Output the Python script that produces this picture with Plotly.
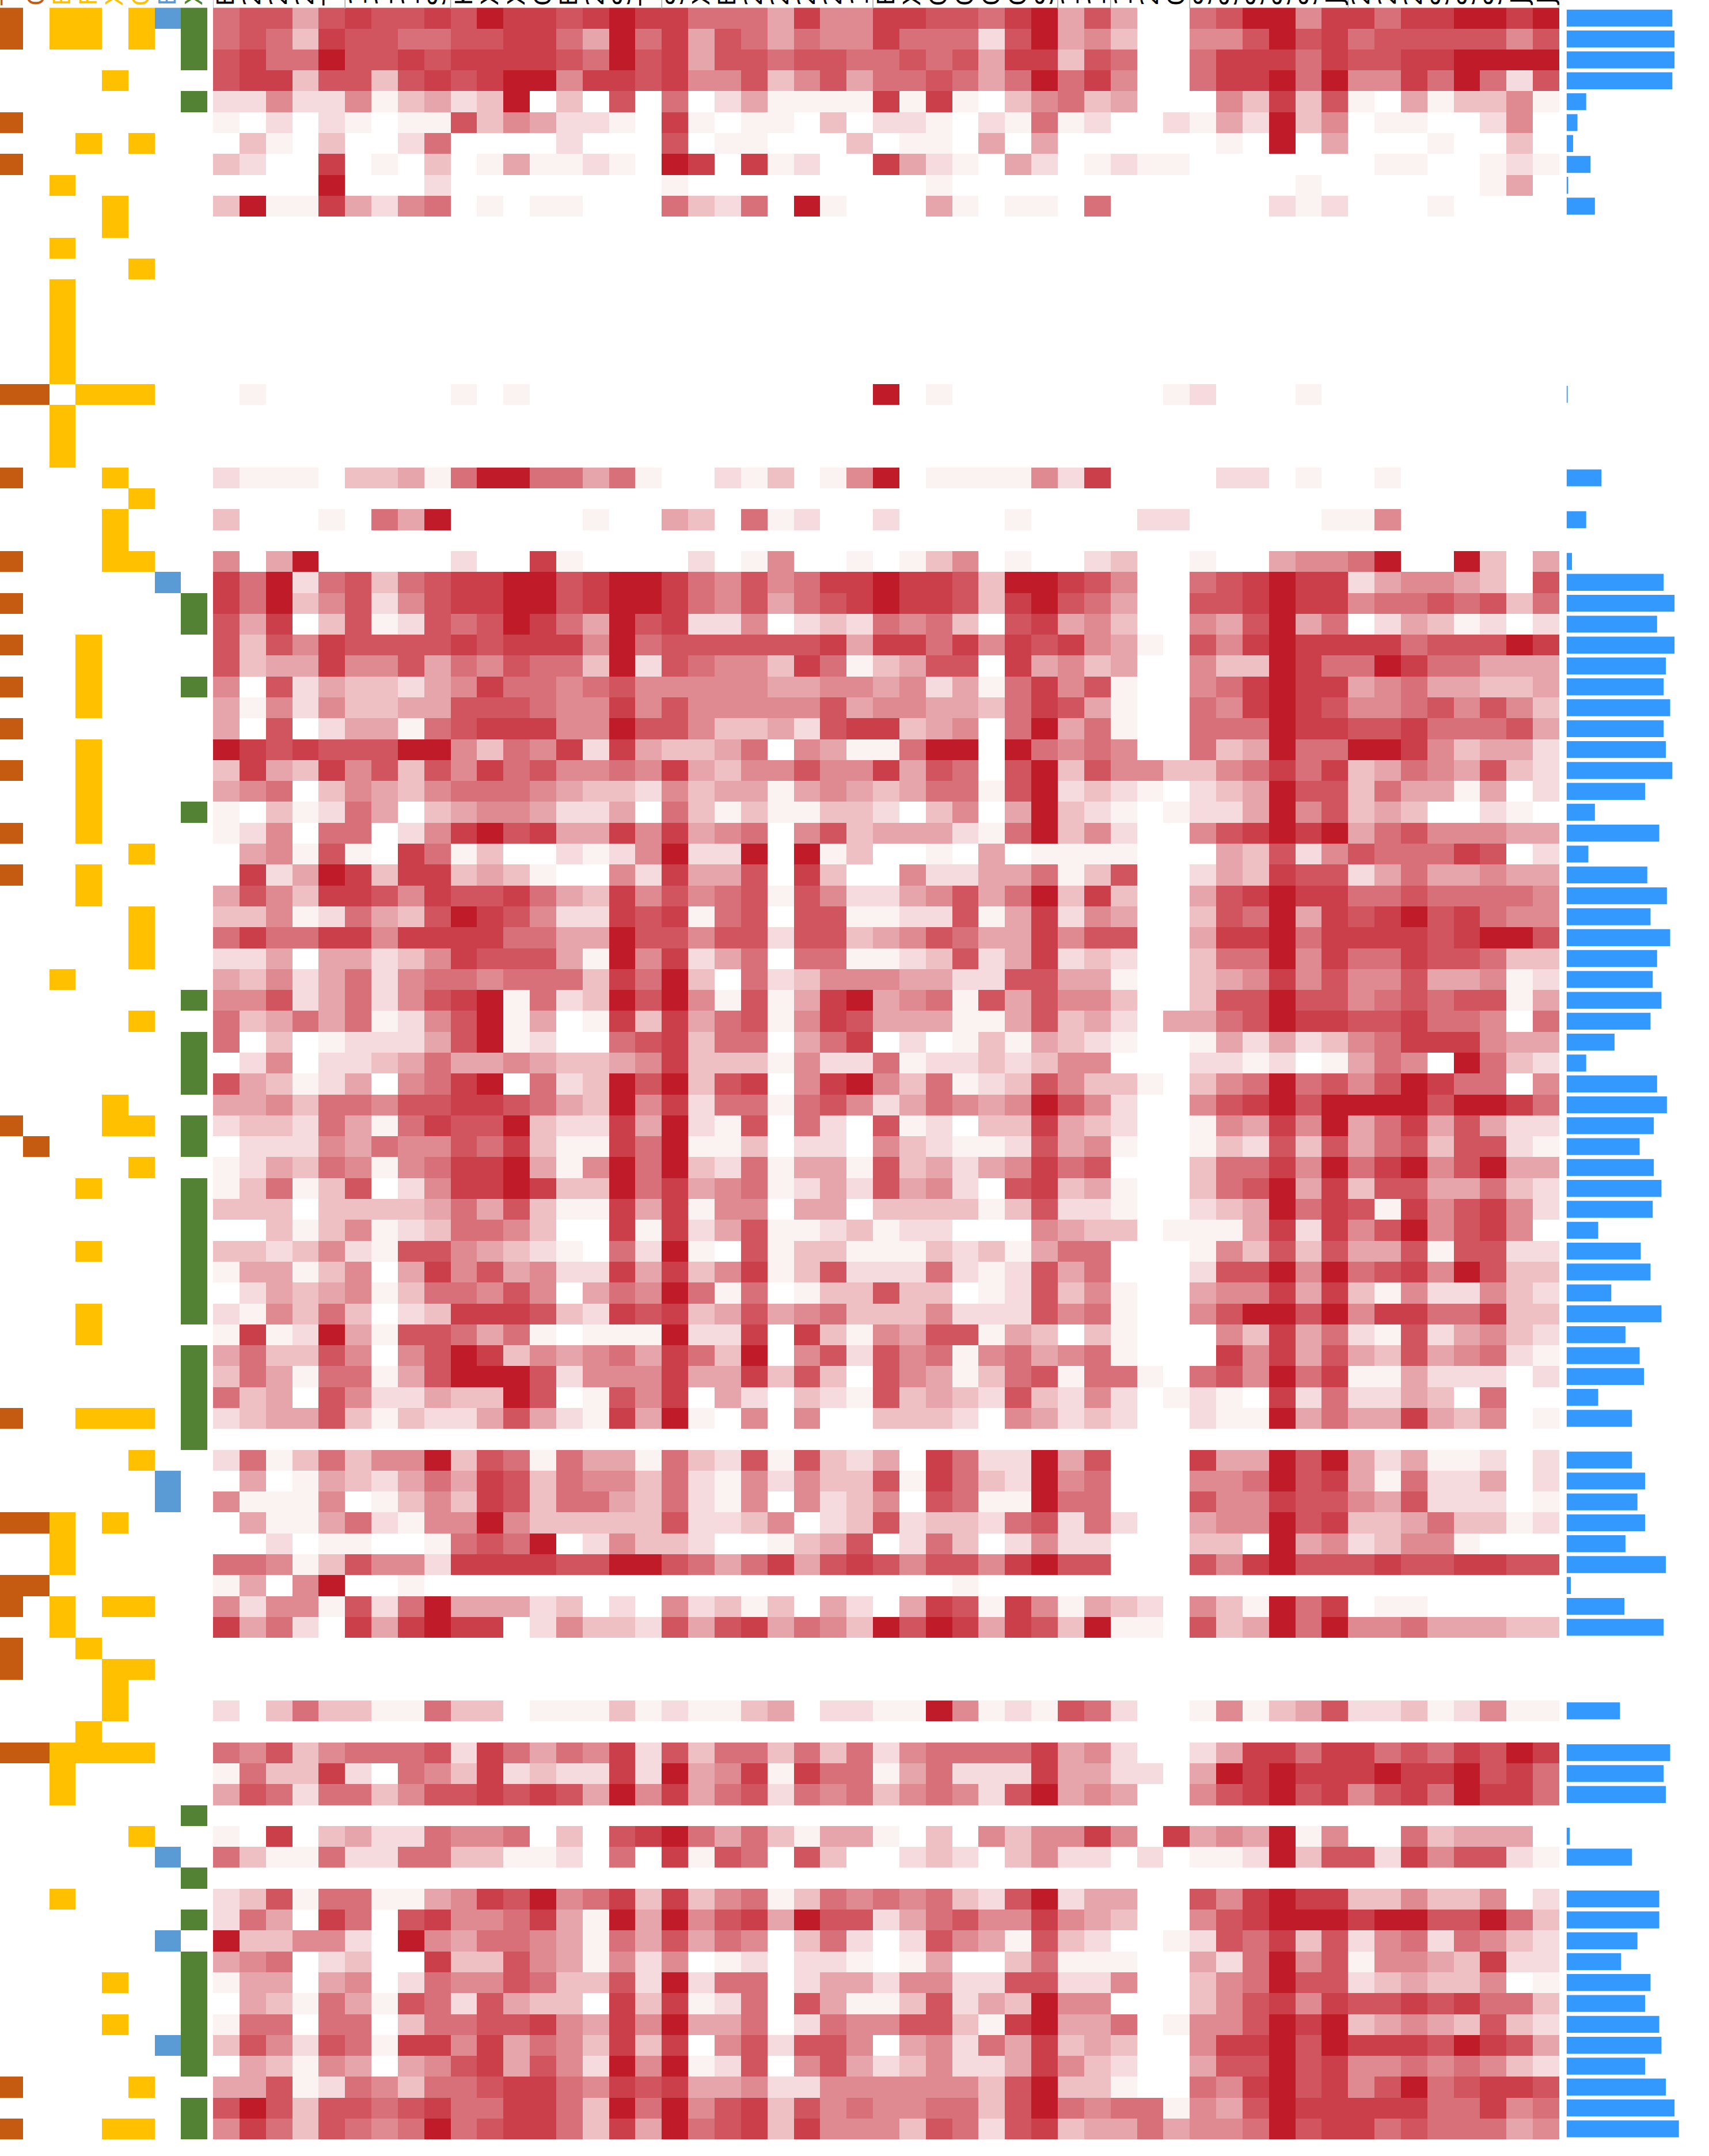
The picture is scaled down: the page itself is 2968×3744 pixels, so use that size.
import plotly.graph_objects as go

W, H = 2968, 3744
BLANK = "0" * 51

HEAT_LEVELS = [
"6774787787 9887898866 6485588776 8947400679 9588688998 9",
"6763877667 7886496847 6465586662 7945300557 9786777775 7",
"7866977878 8887697847 7677667674 8837600688 8687788999 9",
"7883773787 8995887855 7357466764 6968500688 9695586962 7",
"2252251342 3903070602 4111181810 3563400053 8371041335 1",
"1020210117 3542210810 1103022102 1612002142 9350110025 0",
"0310300260 0002000701 1000301104 0400000010 9040001003 0",
"3200801030 1411210980 8120084210 4201211000 0000110012 1",
"0000900020 0000000100 0000000100 0000000000 0100000014 0",
"3911842560 1011000632 6091000410 1106000000 2120001000 0",
BLANK, BLANK, BLANK, BLANK, BLANK, BLANK, BLANK, BLANK,
"0100000001 0100000000 0000090100 0000001200 0100000000 0",
BLANK, BLANK, BLANK,
"2111033416 9966461002 1301590111 1528000022 0100100000 0",
BLANK,
"3000106490 0000100430 6120020000 1000022000 0011500000 0",
BLANK,
"5049000002 0081000020 1500101350 1002300100 4556900930 4",
"8692673678 8997899865 7568898873 9987500678 9882455430 7",
"8693572578 8997899865 7467898873 8976400778 9885667673 6",
"7480371276 7986497822 5023265630 7845300547 9460243120 2",
"7375877778 7888596777 7778488685 8785410758 9888867779 8",
"7344855746 5766392765 5386134770 8453400533 9866986644 4",
"5072433245 8665675555 5445545241 6857100568 9884564433 4",
"4152533447 7765585755 5557455443 6874100658 9875567575 3",
"4070244167 8885597753 3427883450 6946100666 9887786667 4",
"9878777995 3658284334 6054116990 9656500634 9669985344 2",
"3843857375 8675565843 5575584760 7937553356 8683465473 2",
"4560354356 6654332534 4145434661 7923210234 9773644140 2",
"1031264034 5542240631 3113320350 4932101224 9573430021 0",
"1250660258 9784485845 6057344421 6935200578 9894675554 4",
"0451710861 3002125922 9091300104 0111100043 7257666870 2",
"0824983883 4310052844 7083005224 4613700243 8772464454 4",
"4753887587 7864385756 7175224574 6938300478 9886676666 5",
"3351264379 8752287816 7077112271 4825400376 9487897865 5",
"6866885888 8664497757 7277345764 4857700488 9688887899 7",
"2240442358 7774195824 6066112372 4823200366 9586687763 3",
"4352462566 5666386930 6235554422 7744100345 8575574451 2",
"5572462578 9162397951 7148945617 4755300377 9775676771 4",
"6346461257 9140183846 7158744411 4734204467 9887786650 6",
"6030122247 9120067836 6046802013 1432100142 4235688854 4",
"0250223464 4543345833 3152261223 2355000221 2014650963 2",
"7431240568 9062397937 8058953612 3753310356 9675798660 5",
"4453665778 8764395826 6167524654 5975200578 9799997998 6",
"2332641687 7932284921 7062071203 3843200154 8594684742 2",
"0222546557 6831186911 3022053211 2745100132 7374673772 1",
"1243651568 8941596932 6144173424 5867000366 8596895794 4",
"1361370258 8983396845 6124274520 7834100367 9483774463 2",
"3330333346 4731184815 5044033331 3722100234 9687185785 2",
"0031351236 6530081824 7112312200 0543301114 8285795785 0",
"3323521775 4321062910 7133111323 1466000153 7374471772 2",
"1441350485 7452284835 8137222621 2746000277 9596785973 3",
"0243451366 5750465961 6013373301 2735100455 8483152253 2",
"2153630238 8873287834 7456333522 2756100579 9795886683 3",
"1812941776 4610111922 8083154771 4303100053 8462172453 2",
"4633750579 8354564863 9057275615 6456100085 8474374562 1",
"3641661479 9972555844 8373075413 6716610675 9681142220 2",
"6340752243 3970175804 2032173432 7325201210 8262243060 0",
"2344731322 4742184910 5050033320 5423200211 9464484350 1",
BLANK,
"2613635593 7616441632 7173240862 2947000844 9794241120 2",
"0401432464 8736553621 5253371863 2956000556 9784162240 2",
"5111501353 8736643621 5052350761 1966000755 8775472220 1",
"0411462155 9533333722 3502372332 6726200455 9783346331 2",
"0020110016 7690253320 0134702630 2522000330 9452355100 0",
"6651375528 8887799764 6847875775 8977000758 9777877887 7",
"1405900100 0000000000 0000000010 0000000000 0000000000 0",
"5255172694 4423020523 1304204871 8514320531 9680110000 0",
"8462084898 8025332747 8465397984 8739110734 9695564443 3",
BLANK, BLANK, BLANK,
"2036331163 3011131211 3402211951 2176200151 3472231251 1",
BLANK,
"6573566672 8646582736 6363625666 6845200248 8688676879 8",
"1633820653 8232282945 8186614622 2844220498 9888988978 6",
"4762663577 8787495846 7265635652 7945400578 9785786988 6",
BLANK,
"1080342265 5603078964 6314410305 3558508454 9150063444 0",
"6311622663 3112060817 6073002320 3522020112 9377285772 1",
BLANK,
"2371661145 8795683835 6136565632 7924400758 9883353350 2",
"2640860785 5684194957 8497724675 5854300578 9998997796 3",
"9335520954 6654164746 5036202754 1732001276 8372562653 2",
"4560230083 3754152501 2022101400 3611100426 9571554382 2",
"1440450265 5763372926 6024425522 7722500356 9772343350 1",
"0431641762 7433083812 6074113724 3955000357 8587787866 3",
"1660660366 7785485944 6026557731 8944601557 9893454373 2",
"3752761885 8465383805 7277504526 4834300588 9798887987 4",
"0431540457 8475295912 7057423522 4853200477 9785565653 2",
"4471265366 7886587844 5225555553 7933100658 9785796788 7",
"7973776786 6886396957 8375655663 7965661547 9888886685 6",
"5863765696 7886384967 8385553762 7834464556 9788676664 5",
]
LEVEL_VALUES = [0, 0.055, 0.15, 0.26, 0.37, 0.48, 0.59, 0.70, 0.79, 0.94]

BAR_VALUES = [97, 99, 99, 97, 18, 10, 6, 22, 1.5, 26, 0, 0, 0, 0, 0, 0, 0, 0, 1, 0, 0, 0, 32, 0, 18, 0, 5,
              89, 99, 83, 99, 91, 89, 95, 89, 91, 97, 72, 26, 85, 20, 74, 92, 77, 95, 83, 79, 87, 77, 44, 18,
              83, 92, 80, 67, 80, 87, 79, 29, 68, 77, 41, 87, 54, 67, 71, 29, 60, 0, 60, 72, 65, 72, 54, 91,
              4, 53, 89, 0, 0, 0, 49, 0, 95, 89, 91, 0, 3, 60, 0, 85, 85, 65, 50, 77, 72, 85, 87, 72, 91, 99, 103]

TRACK_T = [0, 1, 5, 7, 18, 22, 26, 28, 30, 32, 34, 36, 39, 41, 53, 67, 72, 75, 76, 78, 79, 83, 99, 101]
TRACK_C = [18, 54, 72, 75, 83]
TRACK_E = [0, 1, 8, 11, 13, 14, 15, 16, 17, 19, 20, 21, 46, 72, 73, 74, 76, 77, 83, 84, 85, 90]
TRACK_F = [0, 1, 6, 18, 30, 31, 32, 33, 35, 36, 37, 38, 39, 41, 42, 56, 59, 62, 63, 67, 78, 82, 83]
TRACK_X = [3, 9, 10, 18, 22, 24, 25, 26, 52, 53, 67, 72, 76, 79, 80, 81, 83, 94, 96, 101]
TRACK_G = [0, 1, 6, 12, 18, 23, 26, 40, 43, 44, 45, 48, 53, 55, 67, 69, 76, 79, 83, 87, 99, 101]
TRACK_B = [0, 27, 70, 71, 88, 92, 97]
TRACK_V = [0, 1, 2, 4, 28, 29, 32, 38, 47, 49, 50, 51, 53, 54, 56, 57, 58, 59, 60, 61, 62, 64, 65, 66, 67, 68,
           86, 89, 91, 93, 94, 95, 96, 97, 98, 100, 101]

TRACKS = [TRACK_T, TRACK_C, TRACK_E, TRACK_F, TRACK_X, TRACK_G, TRACK_B, TRACK_V]
TRACK_KIND = [1, 1, 2, 2, 2, 2, 3, 4]
TRACK_LABELS = ["T", "C", "E", "F", "X", "G", "B", "X"]
BROWN, YELLOW, BLUE, GREEN = "#C55A11", "#FFC000", "#5B9BD5", "#548235"
TRACK_COLORS = [BROWN, BROWN, YELLOW, YELLOW, YELLOW, YELLOW, BLUE, GREEN]

COLUMN_LABELS = list("E222T111SK" "XXCE2STSXE" "22221EXGGG" "GS1112GSSS" "SSJ222SSSJ" "J")
GROUP_EDGES = [0, 5, 9, 17, 25, 32, 34, 37, 43, 51]

heat = []
for r in HEAT_LEVELS:
    s = r.replace(" ", "")
    if len(s) != 51:
        raise ValueError(f"row {len(heat)} has {len(s)}")
    heat.append([LEVEL_VALUES[int(c)] for c in s])
n_rows = len(heat)
if n_rows != 102 or len(BAR_VALUES) != 102:
    raise ValueError(f"rows {n_rows}, bars {len(BAR_VALUES)}")

track_z = [[TRACK_KIND[c] if r in TRACKS[c] else 0 for c in range(8)] for r in range(n_rows)]

y_rows = list(range(n_rows))
TOP_PX, BOTTOM_PX = 13.3, 3715.0
y_domain = [1 - BOTTOM_PX / H, 1 - TOP_PX / H]

fig = go.Figure()
fig.add_trace(go.Heatmap(
    z=track_z, x=list(range(8)), y=y_rows, xaxis="x", yaxis="y", zmin=0, zmax=4, showscale=False,
    colorscale=[[0, "#FFFFFF"], [0.125, "#FFFFFF"], [0.125, BROWN], [0.375, BROWN], [0.375, YELLOW],
                [0.625, YELLOW], [0.625, BLUE], [0.875, BLUE], [0.875, GREEN], [1, GREEN]],
))
fig.add_trace(go.Heatmap(
    z=heat, x=list(range(51)), y=y_rows, xaxis="x2", yaxis="y", zmin=0, zmax=1, showscale=False,
    colorscale=[[0, "#FFFFFF"], [1, "#BC0C1A"]],
))
fig.add_trace(go.Bar(
    x=BAR_VALUES, y=y_rows, orientation="h", xaxis="x3", yaxis="y", width=0.81,
    marker=dict(color="#3399FF", line=dict(width=0)),
))

hidden = dict(visible=False, showgrid=False, zeroline=False, fixedrange=True)
fig.update_layout(
    width=W, height=H, margin=dict(l=0, r=0, t=0, b=0), paper_bgcolor="white", plot_bgcolor="white",
    showlegend=False,
    xaxis=dict(domain=[0, 360 / W], range=[-0.37, 7.5], anchor="y", **hidden),
    xaxis2=dict(domain=[370 / W, 2708 / W], range=[-0.5, 50.5], anchor="y", **hidden),
    xaxis3=dict(domain=[2720.6 / W, 1], range=[0, 130.6], anchor="y", **hidden),
    yaxis=dict(domain=y_domain, range=[n_rows - 0.5, -0.5], **hidden),
)

label_y = 1 - 12.0 / H
annotations = []
for i, t in enumerate(TRACK_LABELS):
    annotations.append(dict(x=i, y=label_y, xref="x", yref="paper", text=t, textangle=-90, showarrow=False,
                            xanchor="center", yanchor="bottom", font=dict(family="DejaVu Sans", size=40,
                            color=TRACK_COLORS[i])))
for i, t in enumerate(COLUMN_LABELS):
    annotations.append(dict(x=i, y=label_y, xref="x2", yref="paper", text=t, textangle=-90, showarrow=False,
                            xanchor="center", yanchor="bottom", font=dict(family="DejaVu Sans", size=40,
                            color="#000000")))
fig.update_layout(annotations=annotations)

for e in GROUP_EDGES:
    fig.add_shape(type="line", xref="x2", yref="paper", x0=e - 0.5, x1=e - 0.5, y0=1 - 15.0 / H, y1=1,
                  line=dict(color="#A6A6A6", width=1.5))

fig.write_html("out.html", config={"displayModeBar": False},
               post_script="document.body.style.margin='0';document.documentElement.style.overflow='hidden';")
